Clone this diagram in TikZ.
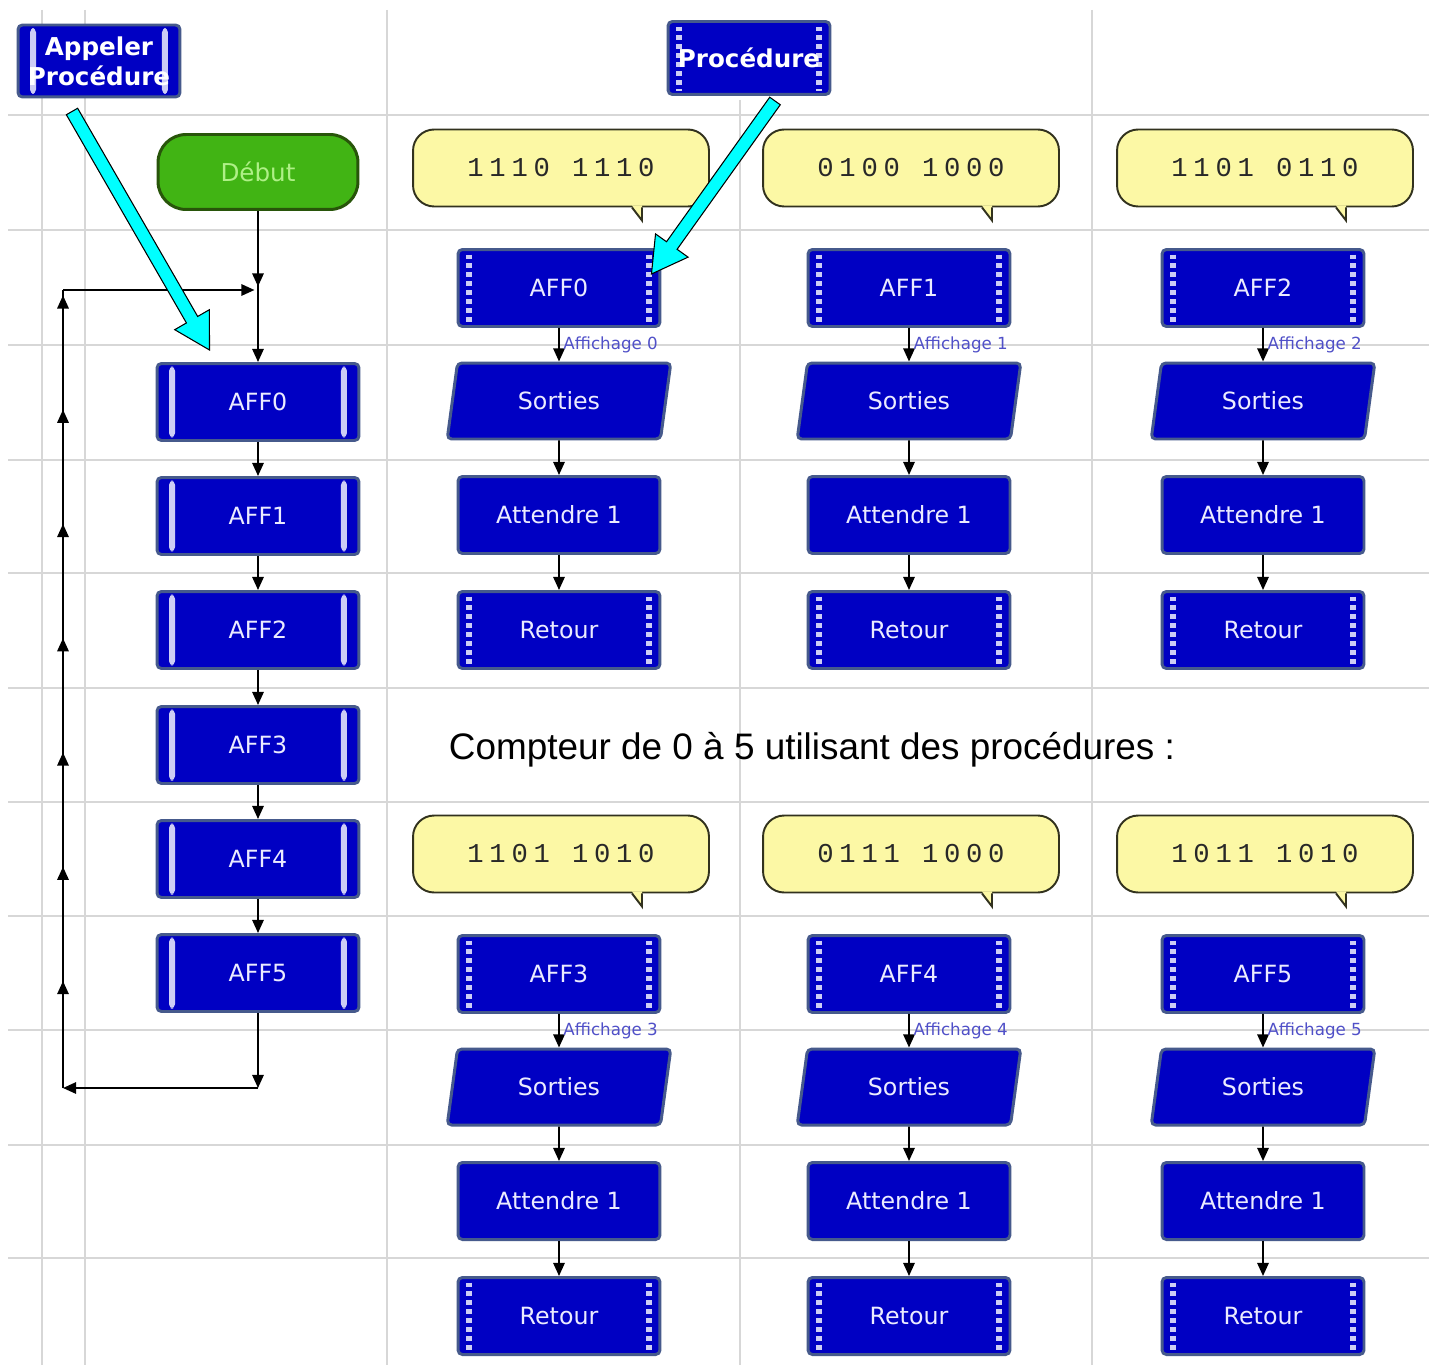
\documentclass[tikz,border=0pt]{standalone}
\usepackage{fontspec}
\setmainfont{Liberation Sans}
\setsansfont{DejaVu Sans}
\newfontfamily\chiffres[LetterSpace=21]{Liberation Mono}
\usetikzlibrary{arrows.meta,calc,shapes.geometric,decorations.markings}

\definecolor{bleubloc}{RGB}{0,0,195}
\definecolor{bordbloc}{RGB}{70,90,140}
\definecolor{barre}{RGB}{205,205,245}
\definecolor{textebloc}{RGB}{235,235,255}
\definecolor{vertdebut}{RGB}{65,180,20}
\definecolor{bordvert}{RGB}{40,85,10}
\definecolor{textevert}{RGB}{175,240,135}
\definecolor{jaunebulle}{RGB}{252,248,165}
\definecolor{bordbulle}{RGB}{50,50,30}
\definecolor{textebulle}{RGB}{40,40,40}
\definecolor{affich}{RGB}{80,80,200}
\definecolor{gris}{RGB}{215,215,215}
\definecolor{cyanfleche}{RGB}{0,255,255}

\begin{document}
\begin{tikzpicture}[x=0.02cm,y=-0.02cm,>={Triangle[length=7.5pt,width=6.5pt]},
fleche/.style={->,line width=1.1pt},
grille/.style={draw=gris,line width=0.9pt},
bloc node/.style={rectangle,rounded corners=2.5pt,fill=bleubloc,draw=bordbloc,line width=1.7pt,
  minimum width=4.04cm,minimum height=1.54cm,text=textebloc,font=\sffamily\fontsize{13.5}{16}\selectfont},
appel node/.style={bloc node,path picture={
  \fill[barre] ([shift={(12,3)}]path picture bounding box.north west) rectangle ([shift={(18,-3)}]path picture bounding box.south west);
  \fill[barre] ([shift={(-12,3)}]path picture bounding box.north east) rectangle ([shift={(-18,-3)}]path picture bounding box.south east);}},
proc node/.style={bloc node,path picture={
  \draw[barre,line width=3.2pt,dash pattern=on 2.8pt off 2.3pt] ([shift={(11,5)}]path picture bounding box.north west) -- ([shift={(11,-3)}]path picture bounding box.south west);
  \draw[barre,line width=3.2pt,dash pattern=on 2.8pt off 2.3pt] ([shift={(-11,5)}]path picture bounding box.north east) -- ([shift={(-11,-3)}]path picture bounding box.south east);}},
sortie node/.style={bloc node,trapezium,trapezium left angle=81,trapezium right angle=99,
  trapezium stretches=true,minimum width=4.5cm,minimum height=1.52cm},
bulle node/.style={rectangle,rounded corners=12pt,fill=jaunebulle,draw=bordbulle,line width=1.1pt,
  minimum width=5.92cm,minimum height=1.54cm,text=textebulle,font=\chiffres\fontsize{15.5}{18}\selectfont},
debut node/.style={rectangle,rounded corners=16pt,fill=vertdebut,draw=bordvert,line width=1.7pt,
  minimum width=4cm,minimum height=1.5cm,text=textevert,font=\sffamily\fontsize{14}{17}\selectfont},
etiquette/.style={font=\sffamily\fontsize{9.5}{11}\selectfont,text=affich,inner sep=2pt}]
\useasboundingbox (0,0) rectangle (1429,1365);
\fill[white] (0,0) rectangle (1429,1365);

% grille
\foreach \gx in {42,85,387,1092}
  \draw[grille] (\gx,10) -- (\gx,1365);
\draw[grille] (740,100) -- (740,1365);
\foreach \gy in {115,230,345,460,573,688,802,916,1030,1145,1258}
  \draw[grille] (8,\gy) -- (1429,\gy);

% legende
\node[appel node,minimum width=3.24cm,minimum height=1.44cm,text=white,align=center,
  font=\sffamily\bfseries\fontsize{14}{17}\selectfont] (appelproc) at (99,61) {Appeler\\Procédure};
\node[proc node,minimum width=3.24cm,minimum height=1.46cm,text=white,
  font=\sffamily\bfseries\fontsize{14}{17}\selectfont] (procedure) at (749,58) {Procédure};

% programme principal
\node[debut node] (debut) at (258,172) {Début};
\foreach \i/\y in {0/402,1/516,2/630,3/745,4/859,5/973}
  \node[appel node] (g\i) at (258,\y) {AFF\i};
\foreach \i [count=\j] in {0,...,4}
  \draw[fleche] (g\i) -- (g\j);

\coordinate (jonction) at (258,290);
\coordinate (coinh) at (63,290);
\coordinate (coinb) at (63,1088);
\coordinate (bas) at (258,1088);
\draw[fleche,postaction={decorate},decoration={markings,mark=at position 0.5 with {\arrow{>}}}] (debut) -- (g0);
\draw[fleche,shorten >=2pt] (coinh) -- (jonction);
\draw[fleche] (g5) -- (bas);
\draw[fleche] (bas) -- (coinb);
\draw[line width=1.1pt,postaction={decorate},
  decoration={markings,mark=between positions 2.14cm and 16cm step 2.286cm with {\arrow{>}}}] (coinb) -- (coinh);

% procedures
\foreach \n/\cx/\dy/\code in {0/559/0/1110 1110,1/909/0/0100 1000,2/1263/0/1101 0110,
  3/559/686/1101 1010,4/909/686/0111 1000,5/1263/686/1011 1010}{
  \node[bulle node] (b\n) at (\cx+2,168+\dy) {\code};
  \fill[jaunebulle] ([shift={(71,-2)}]b\n.south) -- ([shift={(81,13)}]b\n.south) -- ([shift={(81,-2)}]b\n.south) -- cycle;
  \draw[bordbulle,line width=1.1pt] ([shift={(71,0)}]b\n.south) -- ([shift={(81,13)}]b\n.south) -- ([shift={(81,0)}]b\n.south);
  \node[proc node] (p\n) at (\cx,288+\dy) {AFF\n};
  \node[sortie node] (s\n) at (\cx,401+\dy) {Sorties};
  \node[bloc node] (a\n) at (\cx,515+\dy) {Attendre 1};
  \node[proc node] (r\n) at (\cx,630+\dy) {Retour};
  \draw[fleche] (p\n) -- node[etiquette,right] {Affichage \n} (s\n);
  \draw[fleche] (s\n) -- (a\n);
  \draw[fleche] (a\n) -- (r\n);
}

\node[font=\fontsize{21}{25}\selectfont] (titre) at (812,750) {Compteur de 0 à 5 utilisant des procédures :};

% fleches cyan
\coordinate (dep1) at ([shift={(-27,13)}]appelproc.south);
\coordinate (pte1) at ([shift={(54,-12)}]g0.north west);
\coordinate (dep2) at ([shift={(26,5)}]procedure.south);
\coordinate (pte2) at ([shift={(-10,-14)}]p0.east);
\foreach \f in {1,2}{
  \coordinate (base\f) at ($(pte\f)!0.7cm!(dep\f)$);
  \filldraw[fill=cyanfleche,draw=black,line width=0.6pt]
    ($(dep\f)!0.13cm!90:(pte\f)$) -- ($(base\f)!0.13cm!-90:(dep\f)$) -- ($(base\f)!0.4cm!-90:(dep\f)$) -- (pte\f)
    -- ($(base\f)!0.4cm!90:(dep\f)$) -- ($(base\f)!0.13cm!90:(dep\f)$) -- ($(dep\f)!0.13cm!-90:(pte\f)$) -- cycle;
}
\end{tikzpicture}
\end{document}
